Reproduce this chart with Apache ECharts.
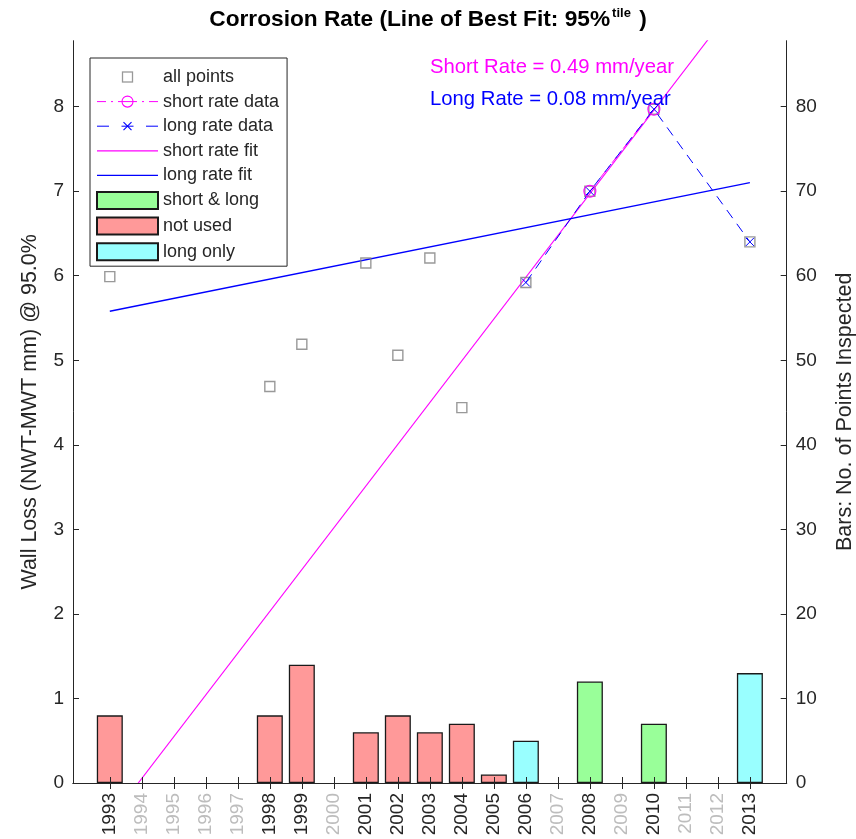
<!DOCTYPE html>
<html>
<head>
<meta charset="utf-8">
<title>Corrosion Rate</title>
<script src="https://cdn.jsdelivr.net/npm/echarts@6/dist/echarts.min.js"></script>
<style>
  html, body { margin: 0; padding: 0; background: #ffffff; overflow: hidden; }
  #chart { width: 856px; height: 839px; }
</style>
</head>
<body>
<div id="chart"></div>
<script>
// Inspection years shown on the axis
const yearTicks = [1993, 1994, 1995, 1996, 1997, 1998, 1999, 2000, 2001, 2002, 2003,
                   2004, 2005, 2006, 2007, 2008, 2009, 2010, 2011, 2012, 2013];

// 95th-percentile wall loss per inspection (mm)
const pointYears = [1993, 1998, 1999, 2001, 2002, 2003, 2004, 2006, 2008, 2010, 2013];
const pointLoss  = [5.99, 4.69, 5.19, 6.15, 5.06, 6.21, 4.44, 5.92, 7.00, 7.97, 6.40];

// Inspections used for the short- and long-term rates
const shortYears = [2008, 2010];
const shortLoss  = [7.00, 7.97];
const longYears  = [2006, 2008, 2010, 2013];
const longLoss   = [5.92, 7.00, 7.97, 6.40];

// Fitted lines (end points) and their slopes in mm/year
const shortFitYears = [1993, 2013];
const shortFitLoss  = [-0.44, 9.44];
const longFitYears  = [1993, 2013];
const longFitLoss   = [5.58, 7.10];
const shortRate = 0.49;
const longRate  = 0.08;

// Number of points inspected, grouped by how the inspection was used
const bothYears      = [2008, 2010];
const bothCounts     = [12, 7];
const unusedYears    = [1993, 1998, 1999, 2001, 2002, 2003, 2004, 2005];
const unusedCounts   = [8, 8, 14, 6, 8, 6, 7, 1];
const longOnlyYears  = [2006, 2013];
const longOnlyCounts = [5, 13];

// Axis tick labels
const lossTicks  = [0, 1, 2, 3, 4, 5, 6, 7, 8];
const countTicks = [0, 10, 20, 30, 40, 50, 60, 70, 80];

const FONT = '"Liberation Sans", Arial, Helvetica, sans-serif';
const INK = '#262626';
const MAGENTA = '#ff00ff';
const BLUE = '#0000ff';
const GREY = '#808080';

const pairs = (xs, ys) => xs.map((x, i) => [x, ys[i]]);
const inspected = new Set([].concat(bothYears, unusedYears, longOnlyYears));

// Small SVG legend icons so the keys look like the plotted marks
const svgIcon = body => 'image://data:image/svg+xml;charset=utf-8,' + encodeURIComponent(
  '<svg xmlns="http://www.w3.org/2000/svg" width="61" height="17" viewBox="0 0 61 17">' + body + '</svg>');
const iconPoints = svgIcon('<rect x="25.5" y="3.5" width="10" height="10" fill="none" stroke="#808080" stroke-width="1.3"/>');
const iconShortData = svgIcon(
  '<path d="M0,8.5H9M14,8.5H16M21,8.5H40M45,8.5H47M52,8.5H61" stroke="#ff00ff" stroke-width="1" fill="none"/>' +
  '<circle cx="30.5" cy="8.5" r="5.5" fill="none" stroke="#ff00ff" stroke-width="1.1"/>');
const iconLongData = svgIcon(
  '<path d="M0,8.5H12M24.5,8.5H36.5M49,8.5H61" stroke="#0000ff" stroke-width="1" fill="none"/>' +
  '<path d="M26.5,4.5L34.5,12.5M34.5,4.5L26.5,12.5" stroke="#0000ff" stroke-width="1.1" fill="none"/>');
const iconShortFit = svgIcon('<path d="M0,8.5H61" stroke="#ff00ff" stroke-width="1.2"/>');
const iconLongFit = svgIcon('<path d="M0,8.5H61" stroke="#0000ff" stroke-width="1.2"/>');

const frameAxisLine = { show: true, lineStyle: { color: INK, width: 1 } };

const chart = echarts.init(document.getElementById('chart'), null, { renderer: 'canvas' });

chart.setOption({
  animation: false,
  backgroundColor: '#ffffff',
  textStyle: { fontFamily: FONT },
  title: {
    left: 'center',
    top: 2,
    text: '{m|Corrosion Rate (Line of Best Fit: 95%}{s|tile}{m| )}',
    textStyle: {
      rich: {
        m: { fontFamily: FONT, fontSize: 22.7, fontWeight: 'bold', color: '#000000', lineHeight: 26 },
        s: { fontFamily: FONT, fontSize: 13, fontWeight: 'bold', color: '#000000', lineHeight: 26, verticalAlign: 'top', padding: [0, 2, 0, 2] }
      }
    }
  },
  grid: { left: 73, right: 69.3, top: 40.7, bottom: 56, containLabel: false, outerBoundsMode: 'none' },
  legend: {
    orient: 'vertical',
    left: 90,
    top: 58,
    padding: [10, 8, 5, 6],
    itemWidth: 61,
    itemHeight: 17,
    itemGap: 6.6,
    backgroundColor: '#ffffff',
    borderColor: INK,
    borderWidth: 1,
    borderRadius: 0,
    selectedMode: false,
    textStyle: { fontFamily: FONT, fontSize: 18, color: INK, padding: [0, 0, 0, 0] },
    data: [
      { name: 'all points', icon: iconPoints },
      { name: 'short rate data', icon: iconShortData },
      { name: 'long rate data', icon: iconLongData },
      { name: 'short rate fit', icon: iconShortFit },
      { name: 'long rate fit', icon: iconLongFit },
      { name: 'short & long', icon: 'rect' },
      { name: 'not used', icon: 'rect' },
      { name: 'long only', icon: 'rect' }
    ]
  },
  graphic: [
    {
      type: 'text', x: 430, y: 67, z: 20,
      style: { text: 'Short Rate = ' + shortRate.toFixed(2) + ' mm/year', fill: MAGENTA,
               font: '20.3px ' + FONT, verticalAlign: 'middle', align: 'left' }
    },
    {
      type: 'text', x: 430, y: 99, z: 20,
      style: { text: 'Long Rate = ' + longRate.toFixed(2) + ' mm/year', fill: BLUE,
               font: '20.3px ' + FONT, verticalAlign: 'middle', align: 'left' }
    }
  ],
  xAxis: [
    {
      type: 'value', position: 'bottom', min: 1991.85, max: 2014.15, z: 10,
      axisLine: frameAxisLine,
      axisTick: { show: true, inside: true, length: 6, customValues: yearTicks, lineStyle: { color: INK } },
      axisLabel: {
        customValues: yearTicks, rotate: 90, margin: 10,
        formatter: v => (inspected.has(v) ? '{on|' + v + '}' : '{off|' + v + '}'),
        rich: {
          on: { fontFamily: FONT, fontSize: 19, color: INK },
          off: { fontFamily: FONT, fontSize: 19, color: '#bdbdbd' }
        }
      },
      splitLine: { show: false }
    },
    {
      type: 'value', position: 'top', min: 1991.85, max: 2014.15, z: 10,
      axisLine: frameAxisLine,
      axisTick: { show: true, inside: true, length: 6, customValues: yearTicks, lineStyle: { color: INK } },
      axisLabel: { show: false },
      splitLine: { show: false }
    }
  ],
  yAxis: [
    {
      type: 'value', position: 'left', min: 0, max: 8.78, z: 10,
      name: 'Wall Loss (NWT-MWT mm) @ 95.0%',
      nameLocation: 'middle', nameRotate: 90, nameGap: 32,
      nameTextStyle: { fontFamily: FONT, fontSize: 21.5, color: INK },
      axisLine: frameAxisLine,
      axisTick: { show: true, inside: true, length: 6, customValues: lossTicks, lineStyle: { color: INK } },
      axisLabel: { customValues: lossTicks, margin: 9, fontFamily: FONT, fontSize: 19, color: INK },
      splitLine: { show: false }
    },
    {
      type: 'value', position: 'right', min: 0, max: 87.8, z: 10,
      name: 'Bars: No. of Points Inspected',
      nameLocation: 'middle', nameRotate: 90, nameGap: 47,
      nameTextStyle: { fontFamily: FONT, fontSize: 21.5, color: INK },
      axisLine: frameAxisLine,
      axisTick: { show: true, inside: true, length: 6, customValues: countTicks, lineStyle: { color: INK } },
      axisLabel: { customValues: countTicks, margin: 9, fontFamily: FONT, fontSize: 19, color: INK },
      splitLine: { show: false }
    }
  ],
  series: [
    {
      name: 'all points', type: 'scatter', xAxisIndex: 0, yAxisIndex: 0, z: 4,
      data: pairs(pointYears, pointLoss),
      symbol: 'rect', symbolSize: 10,
      itemStyle: { color: 'transparent', borderColor: GREY, borderWidth: 1.4 }
    },
    {
      name: 'short rate data', type: 'line', xAxisIndex: 0, yAxisIndex: 0, z: 5,
      data: pairs(shortYears, shortLoss),
      symbol: 'circle', symbolSize: 12, showSymbol: true,
      lineStyle: { color: MAGENTA, width: 1, type: [8, 4, 2, 4] },
      itemStyle: { color: 'transparent', borderColor: MAGENTA, borderWidth: 1.1 }
    },
    {
      name: 'long rate data', type: 'line', xAxisIndex: 0, yAxisIndex: 0, z: 5,
      data: pairs(longYears, longLoss),
      symbol: 'path://M0,0L10,10M10,0L0,10', symbolSize: 8, showSymbol: true,
      lineStyle: { color: BLUE, width: 1, type: [10, 7] },
      itemStyle: { color: 'transparent', borderColor: BLUE, borderWidth: 1 }
    },
    {
      name: 'short rate fit', type: 'line', xAxisIndex: 0, yAxisIndex: 0, z: 3,
      data: pairs(shortFitYears, shortFitLoss),
      symbol: 'none', clip: true,
      lineStyle: { color: MAGENTA, width: 1.1 },
      itemStyle: { color: MAGENTA }
    },
    {
      name: 'long rate fit', type: 'line', xAxisIndex: 0, yAxisIndex: 0, z: 3,
      data: pairs(longFitYears, longFitLoss),
      symbol: 'none', clip: true,
      lineStyle: { color: BLUE, width: 1.3 },
      itemStyle: { color: BLUE }
    },
    {
      name: 'short & long', type: 'bar', xAxisIndex: 0, yAxisIndex: 1, z: 2,
      data: pairs(bothYears, bothCounts),
      barWidth: 26, barGap: '-100%',
      itemStyle: { color: '#99ff99', borderColor: '#1a1a1a', borderWidth: 1.3 }
    },
    {
      name: 'not used', type: 'bar', xAxisIndex: 0, yAxisIndex: 1, z: 2,
      data: pairs(unusedYears, unusedCounts),
      barWidth: 26, barGap: '-100%',
      itemStyle: { color: '#ff9999', borderColor: '#1a1a1a', borderWidth: 1.3 }
    },
    {
      name: 'long only', type: 'bar', xAxisIndex: 0, yAxisIndex: 1, z: 2,
      data: pairs(longOnlyYears, longOnlyCounts),
      barWidth: 26, barGap: '-100%',
      itemStyle: { color: '#99ffff', borderColor: '#1a1a1a', borderWidth: 1.3 }
    }
  ]
});
</script>
</body>
</html>
